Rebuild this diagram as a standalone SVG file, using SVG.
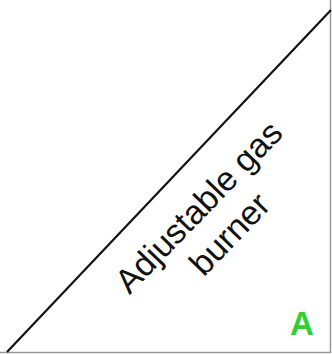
<svg xmlns="http://www.w3.org/2000/svg" width="332" height="354" viewBox="0 0 332 354">
<style>
.lbl{font-family:"Liberation Sans",Arial,sans-serif;font-size:34px;fill:#111;text-anchor:middle}
.tag{font-family:"Liberation Sans",Arial,sans-serif;font-size:33px;font-weight:bold;fill:#2ed12e;text-anchor:middle}
</style>
<rect width="332" height="354" fill="#fff"/>
<g id="frame" fill="none" stroke="#999" stroke-width="1.5">
<line x1="330.5" y1="0" x2="330.5" y2="353"/>
<line x1="0" y1="352.5" x2="331" y2="352.5"/>
</g>
<g id="connectors">
<line x1="7" y1="352" x2="331" y2="10" stroke="#111" stroke-width="2.2"/>
</g>
<g id="burner" transform="translate(207,215) rotate(-46)">
<text class="lbl" x="0" y="0">Adjustable gas</text>
<text class="lbl" x="2" y="41">burner</text>
</g>
<g id="labelA">
<text class="tag" x="302" y="335">A</text>
</g>
</svg>
